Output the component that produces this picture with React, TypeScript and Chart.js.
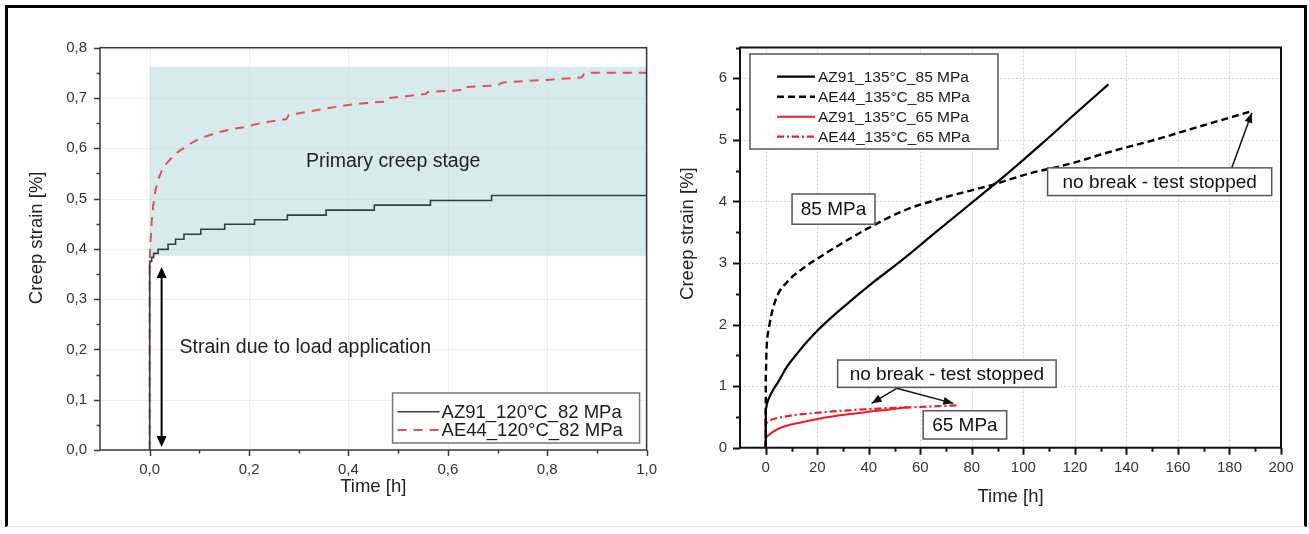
import React, { useEffect, useRef } from 'react';
import { Chart, registerables } from 'chart.js';

Chart.register(...registerables);

const FONT = '"Liberation Sans", Arial, Helvetica, sans-serif';

// ---------------- Left panel: 120°C / 82 MPa, first hour ----------------
const leftNames = ['AZ91_120°C_82 MPa', 'AE44_120°C_82 MPa'];
const leftAZ91Time = [0, 0, 0.004, 0.008, 0.017, 0.037, 0.052, 0.069, 0.103, 0.151, 0.211, 0.277, 0.355, 0.452, 0.565, 0.688, 0.84, 1.0];
const leftAZ91Strain = [0, 0.355, 0.375, 0.383, 0.391, 0.399, 0.409, 0.419, 0.429, 0.439, 0.449, 0.458, 0.467, 0.477, 0.487, 0.496, 0.506, 0.506];
const leftAE44Time = [0, 0, 0.002, 0.004, 0.007, 0.011, 0.017, 0.024, 0.034, 0.045, 0.057, 0.071, 0.085, 0.1, 0.12, 0.139, 0.165, 0.19, 0.215, 0.241, 0.275, 0.28, 0.32, 0.36, 0.4, 0.436, 0.475, 0.48, 0.52, 0.555, 0.56, 0.6, 0.632, 0.636, 0.7, 0.71, 0.8, 0.87, 0.875, 1.0];
const leftAE44Strain = [0, 0.379, 0.42, 0.453, 0.485, 0.514, 0.537, 0.555, 0.57, 0.582, 0.593, 0.602, 0.611, 0.619, 0.626, 0.632, 0.638, 0.642, 0.648, 0.653, 0.658, 0.666, 0.673, 0.68, 0.686, 0.69, 0.693, 0.7, 0.704, 0.708, 0.712, 0.714, 0.716, 0.722, 0.725, 0.731, 0.736, 0.741, 0.75, 0.75];
const leftXMajor = [0, 0.2, 0.4, 0.6, 0.8, 1.0];
const leftXLabels = ['0,0', '0,2', '0,4', '0,6', '0,8', '1,0'];
const leftYMajor = [0, 0.1, 0.2, 0.3, 0.4, 0.5, 0.6, 0.7, 0.8];
const leftYLabels = ['0,0', '0,1', '0,2', '0,3', '0,4', '0,5', '0,6', '0,7', '0,8'];
const leftXTitle = 'Time [h]';
const leftYTitle = 'Creep strain [%]';
const leftShadeX = [0, 1.0];
const leftShadeY = [0.386, 0.762];
const leftNotes = [
  { text: 'Primary creep stage', x: 0.49, y: 0.573, align: 'center' },
  { text: 'Strain due to load application', x: 0.06, y: 0.203, align: 'left' },
];
const leftArrow = { x: 0.024, y1: 0.006, y2: 0.364 };

// ---------------- Right panel: 135°C, 85 / 65 MPa ----------------
const rightNames = ['AZ91_135°C_85 MPa', 'AE44_135°C_85 MPa', 'AZ91_135°C_65 MPa', 'AE44_135°C_65 MPa'];
const rAZ91_85Time = [0, 0, 0.5, 1.5, 3, 5, 8, 12, 16, 20, 30, 40, 53, 66, 80, 94, 107.5, 120, 133];
const rAZ91_85Strain = [0, 0.62, 0.72, 0.83, 0.95, 1.08, 1.3, 1.52, 1.72, 1.9, 2.28, 2.63, 3.05, 3.5, 3.98, 4.46, 4.95, 5.42, 5.9];
const rAE44_85Time = [0, 0, 0.3, 1.3, 4, 9, 15, 20, 30, 40, 53, 69, 88, 102, 118, 134, 151, 167, 189];
const rAE44_85Strain = [0, 1.2, 1.6, 1.96, 2.42, 2.72, 2.93, 3.07, 3.33, 3.57, 3.84, 4.06, 4.27, 4.45, 4.61, 4.81, 5.0, 5.2, 5.47];
const rAZ91_65Time = [0, 0, 1, 4.5, 13.6, 26.4, 39.5, 49.8, 55];
const rAZ91_65Strain = [0, 0.16, 0.2, 0.3, 0.41, 0.51, 0.58, 0.63, 0.66];
const rAE44_65Time = [0, 0, 2, 8, 20.6, 33.4, 46, 59, 75];
const rAE44_65Strain = [0, 0.4, 0.45, 0.51, 0.57, 0.61, 0.64, 0.66, 0.69];
const rightXMajor = [0, 20, 40, 60, 80, 100, 120, 140, 160, 180, 200];
const rightXLabels = ['0', '20', '40', '60', '80', '100', '120', '140', '160', '180', '200'];
const rightYMajor = [0, 1, 2, 3, 4, 5, 6];
const rightYLabels = ['0', '1', '2', '3', '4', '5', '6'];
const rightXTitle = 'Time [h]';
const rightYTitle = 'Creep strain [%]';
const rightBoxes = [
  { text: '85 MPa', x1: 10.2, x2: 42.4, y1: 4.12, y2: 3.63 },
  { text: 'no break - test stopped', x1: 109.4, x2: 196.4, y1: 4.545, y2: 4.095 },
  { text: 'no break - test stopped', x1: 27.9, x2: 112.7, y1: 1.424, y2: 0.98 },
  { text: '65 MPa', x1: 61.1, x2: 93.5, y1: 0.6, y2: 0.141 },
];
const rightArrows = [
  { x1: 180.9, y1: 4.545, x2: 188.7, y2: 5.44 },
  { x1: 50.8, y1: 0.964, x2: 41.1, y2: 0.72 },
  { x1: 50.8, y1: 0.964, x2: 72.8, y2: 0.72 },
];

// ---------------- helpers ----------------
const pts = (xs: number[], ys: number[]) => xs.map((x, i) => ({ x, y: ys[i] }));
const labelFor = (v: number, majors: number[], labels: string[]) => {
  const i = majors.findIndex((m) => Math.abs(m - v) < 1e-6);
  return i >= 0 ? labels[i] : '';
};
const isMajor = (v: number, majors: number[]) => majors.some((m) => Math.abs(m - v) < 1e-6);

function arrowHead(ctx: CanvasRenderingContext2D, x1: number, y1: number, x2: number, y2: number, len: number, half: number) {
  const a = Math.atan2(y2 - y1, x2 - x1);
  const bx = x2 - len * Math.cos(a);
  const by = y2 - len * Math.sin(a);
  ctx.beginPath();
  ctx.moveTo(x2, y2);
  ctx.lineTo(bx + half * Math.sin(a), by - half * Math.cos(a));
  ctx.lineTo(bx - half * Math.sin(a), by + half * Math.cos(a));
  ctx.closePath();
  ctx.fill();
}

function drawTicks(chart: any, xMajor: number[], yMajor: number[], color: string, width: number, majLen: number, minLen: number) {
  const { ctx, chartArea: ca, scales } = chart;
  ctx.save();
  ctx.strokeStyle = color;
  ctx.lineWidth = width;
  const xs = scales.x;
  const ys = scales.y;
  xs.ticks.forEach((t: any) => {
    if (Math.abs(t.value - xs.min) < 1e-9) return;
    const px = Math.round(xs.getPixelForValue(t.value)) + 0.5;
    const L = isMajor(t.value, xMajor) ? majLen : minLen;
    ctx.beginPath();
    ctx.moveTo(px, ca.bottom);
    ctx.lineTo(px, ca.bottom + L);
    ctx.stroke();
  });
  ys.ticks.forEach((t: any) => {
    const py = Math.round(ys.getPixelForValue(t.value)) + 0.5;
    const L = isMajor(t.value, yMajor) ? majLen : minLen;
    ctx.beginPath();
    ctx.moveTo(ca.left, py);
    ctx.lineTo(ca.left - L, py);
    ctx.stroke();
  });
  ctx.restore();
}

function drawGrid(chart: any, xMajor: number[], yMajor: number[], color: string, dash: number[]) {
  const { ctx, chartArea: ca, scales } = chart;
  ctx.save();
  ctx.strokeStyle = color;
  ctx.lineWidth = 1;
  ctx.setLineDash(dash);
  xMajor.forEach((v) => {
    const px = Math.round(scales.x.getPixelForValue(v)) + 0.5;
    ctx.beginPath();
    ctx.moveTo(px, ca.top);
    ctx.lineTo(px, ca.bottom);
    ctx.stroke();
  });
  yMajor.forEach((v) => {
    const py = Math.round(scales.y.getPixelForValue(v)) + 0.5;
    ctx.beginPath();
    ctx.moveTo(ca.left, py);
    ctx.lineTo(ca.right, py);
    ctx.stroke();
  });
  ctx.restore();
}

function drawYTitle(chart: any, text: string, cx: number, dy: number) {
  const { ctx, chartArea: ca } = chart;
  ctx.save();
  ctx.translate(cx, (ca.top + ca.bottom) / 2 + dy);
  ctx.rotate(-Math.PI / 2);
  ctx.font = `18.5px ${FONT}`;
  ctx.fillStyle = '#222';
  ctx.textAlign = 'center';
  ctx.textBaseline = 'middle';
  ctx.fillText(text, 0, 0);
  ctx.restore();
}

function drawLegend(chart: any, box: { x: number; y: number; w: number; h: number }, rows: number[], lineX: number[], textX: number, fontSize: number, borderColor: string) {
  const { ctx } = chart;
  ctx.save();
  ctx.fillStyle = '#fff';
  ctx.fillRect(box.x, box.y, box.w, box.h);
  ctx.strokeStyle = borderColor;
  ctx.lineWidth = 1.5;
  ctx.strokeRect(box.x, box.y, box.w, box.h);
  chart.data.datasets.forEach((ds: any, i: number) => {
    const y = rows[i];
    ctx.save();
    ctx.strokeStyle = ds.borderColor;
    ctx.lineWidth = ds.borderWidth;
    ctx.setLineDash(ds.borderDash || []);
    ctx.beginPath();
    ctx.moveTo(lineX[0], y);
    ctx.lineTo(lineX[1], y);
    ctx.stroke();
    ctx.restore();
    ctx.font = `${fontSize}px ${FONT}`;
    ctx.fillStyle = '#1a1a1a';
    ctx.textAlign = 'left';
    ctx.textBaseline = 'middle';
    ctx.fillText(ds.label, textX, y + 1);
  });
  ctx.restore();
}

const scaleBase = (min: number, max: number, step: number, majors: number[], labels: string[], pad: number) => ({
  type: 'linear' as const,
  min,
  max,
  ticks: {
    stepSize: step,
    autoSkip: false,
    maxRotation: 0,
    padding: pad,
    color: '#333',
    font: { family: FONT, size: 15 },
    callback: (v: any) => labelFor(Number(v), majors, labels),
  },
  grid: { display: false, drawTicks: false },
  border: { display: false },
});

// ---------------- left chart config ----------------
function leftConfig(): any {
  const plugin = {
    id: 'leftDecor',
    beforeDatasetsDraw(chart: any) {
      const { ctx, scales } = chart;
      const x1 = scales.x.getPixelForValue(leftShadeX[0]);
      const x2 = scales.x.getPixelForValue(leftShadeX[1]);
      const y1 = scales.y.getPixelForValue(leftShadeY[1]);
      const y2 = scales.y.getPixelForValue(leftShadeY[0]);
      ctx.save();
      ctx.fillStyle = '#d7ebec';
      ctx.fillRect(x1, y1, x2 - x1, y2 - y1);
      ctx.restore();
      drawGrid(chart, leftXMajor, leftYMajor, 'rgba(200,210,210,0.35)', []);
    },
    afterDatasetsDraw(chart: any) {
      const { ctx, chartArea: ca, scales } = chart;
      const ax = scales.x.getPixelForValue(leftArrow.x);
      const ay1 = scales.y.getPixelForValue(leftArrow.y1);
      const ay2 = scales.y.getPixelForValue(leftArrow.y2);
      ctx.save();
      ctx.strokeStyle = '#000';
      ctx.fillStyle = '#000';
      ctx.lineWidth = 2;
      ctx.beginPath();
      ctx.moveTo(ax, ay1 - 8);
      ctx.lineTo(ax, ay2 + 8);
      ctx.stroke();
      arrowHead(ctx, ax, ay1 - 20, ax, ay1, 11, 5);
      arrowHead(ctx, ax, ay2 + 20, ax, ay2, 11, 5);
      ctx.font = `19.5px ${FONT}`;
      ctx.fillStyle = '#222';
      ctx.textBaseline = 'middle';
      leftNotes.forEach((n) => {
        ctx.textAlign = n.align as CanvasTextAlign;
        ctx.fillText(n.text, scales.x.getPixelForValue(n.x), scales.y.getPixelForValue(n.y));
      });
      ctx.restore();
      ctx.save();
      ctx.strokeStyle = '#3a3a3a';
      ctx.lineWidth = 1.5;
      ctx.strokeRect(ca.left, ca.top, ca.right - ca.left, ca.bottom - ca.top);
      ctx.restore();
      drawTicks(chart, leftXMajor, leftYMajor, '#3a3a3a', 1.5, 6, 3.5);
      drawYTitle(chart, leftYTitle, 37, -11);
      drawLegend(
        chart,
        { x: ca.right - 254, y: ca.bottom - 57, w: 247, h: 50 },
        [ca.bottom - 38.3, ca.bottom - 20],
        [ca.right - 249, ca.right - 207],
        ca.right - 205,
        18.5,
        '#777'
      );
    },
  };
  return {
    type: 'scatter',
    data: {
      datasets: [
        {
          label: leftNames[0],
          data: pts(leftAZ91Time, leftAZ91Strain),
          showLine: true,
          stepped: 'after',
          borderColor: '#35403f',
          borderWidth: 1.6,
          pointRadius: 0,
        },
        {
          label: leftNames[1],
          data: pts(leftAE44Time, leftAE44Strain),
          showLine: true,
          borderColor: '#e5505c',
          borderWidth: 2,
          borderDash: [9, 7],
          pointRadius: 0,
          tension: 0,
        },
      ],
    },
    options: {
      responsive: false,
      animation: false,
      devicePixelRatio: 1,
      layout: { padding: { left: 0, top: 47.7, right: 14, bottom: 0 } },
      plugins: { legend: { display: false }, tooltip: { enabled: false } },
      scales: {
        x: {
          ...scaleBase(-0.1, 1.0, 0.1, leftXMajor, leftXLabels, 11),
          title: { display: true, text: leftXTitle, color: '#222', font: { family: FONT, size: 18.5 }, padding: { top: 0, bottom: 35.5 } },
          afterFit: (s: any) => {
            s.height = 84;
          },
        },
        y: {
          ...scaleBase(0, 0.8, 0.05, leftYMajor, leftYLabels, 13),
          afterFit: (s: any) => {
            s.width = 100;
          },
        },
      },
    },
    plugins: [plugin],
  };
}

// ---------------- right chart config ----------------
function rightConfig(): any {
  const plugin = {
    id: 'rightDecor',
    beforeDatasetsDraw(chart: any) {
      drawGrid(chart, rightXMajor, rightYMajor, '#d6d6d6', [2, 2]);
    },
    afterDatasetsDraw(chart: any) {
      const { ctx, chartArea: ca, scales } = chart;
      const X = (v: number) => scales.x.getPixelForValue(v);
      const Y = (v: number) => scales.y.getPixelForValue(v);
      ctx.save();
      ctx.strokeStyle = '#111';
      ctx.fillStyle = '#111';
      ctx.lineWidth = 1.5;
      rightArrows.forEach((a) => {
        const x1 = X(a.x1), y1 = Y(a.y1), x2 = X(a.x2), y2 = Y(a.y2);
        ctx.beginPath();
        ctx.moveTo(x1, y1);
        ctx.lineTo(x2, y2);
        ctx.stroke();
        arrowHead(ctx, x1, y1, x2, y2, 10, 4);
      });
      rightBoxes.forEach((b) => {
        const x1 = X(b.x1), x2 = X(b.x2), y1 = Y(b.y1), y2 = Y(b.y2);
        ctx.fillStyle = '#fff';
        ctx.fillRect(x1, y1, x2 - x1, y2 - y1);
        ctx.strokeStyle = '#555';
        ctx.lineWidth = 1.5;
        ctx.strokeRect(x1, y1, x2 - x1, y2 - y1);
        ctx.fillStyle = '#111';
        ctx.font = `19px ${FONT}`;
        ctx.textAlign = 'center';
        ctx.textBaseline = 'middle';
        ctx.fillText(b.text, (x1 + x2) / 2, (y1 + y2) / 2 + 1);
      });
      ctx.restore();
      ctx.save();
      ctx.strokeStyle = '#111';
      ctx.lineWidth = 2;
      ctx.strokeRect(ca.left, ca.top, ca.right - ca.left, ca.bottom - ca.top);
      ctx.restore();
      drawTicks(chart, rightXMajor, rightYMajor, '#111', 2, 7, 4);
      drawYTitle(chart, rightYTitle, 28, -14);
      drawLegend(
        chart,
        { x: ca.left + 10, y: ca.top + 6.5, w: 248, h: 95 },
        [ca.top + 29.2, ca.top + 49.2, ca.top + 69.2, ca.top + 89.2],
        [ca.left + 37, ca.left + 75],
        ca.left + 78,
        15.5,
        '#555'
      );
    },
  };
  return {
    type: 'scatter',
    data: {
      datasets: [
        { label: rightNames[0], data: pts(rAZ91_85Time, rAZ91_85Strain), showLine: true, borderColor: '#000', borderWidth: 2.2, pointRadius: 0, cubicInterpolationMode: 'monotone' },
        { label: rightNames[1], data: pts(rAE44_85Time, rAE44_85Strain), showLine: true, borderColor: '#000', borderWidth: 2.4, borderDash: [7, 4], pointRadius: 0, cubicInterpolationMode: 'monotone' },
        { label: rightNames[2], data: pts(rAZ91_65Time, rAZ91_65Strain), showLine: true, borderColor: '#ee1c24', borderWidth: 2, pointRadius: 0, cubicInterpolationMode: 'monotone' },
        { label: rightNames[3], data: pts(rAE44_65Time, rAE44_65Strain), showLine: true, borderColor: '#ee1c24', borderWidth: 2.2, borderDash: [7, 3, 2, 3], pointRadius: 0, cubicInterpolationMode: 'monotone' },
      ],
    },
    options: {
      responsive: false,
      animation: false,
      devicePixelRatio: 1,
      layout: { padding: { left: 0, top: 47.5, right: 28, bottom: 0 } },
      plugins: { legend: { display: false }, tooltip: { enabled: false } },
      scales: {
        x: {
          ...scaleBase(-10, 200, 10, rightXMajor, rightXLabels, 11),
          title: { display: true, text: rightXTitle, color: '#222', font: { family: FONT, size: 18.5 }, padding: { top: 0, bottom: 26 } },
          afterFit: (s: any) => {
            s.height = 86.3;
          },
        },
        y: {
          ...scaleBase(0, 6.5, 0.5, rightYMajor, rightYLabels, 13),
          afterFit: (s: any) => {
            s.width = 80;
          },
        },
      },
    },
    plugins: [plugin],
  };
}

function ChartCanvas({ make, left, width }: { make: () => any; left: number; width: number }) {
  const ref = useRef<HTMLCanvasElement>(null);
  useEffect(() => {
    const chart = new Chart(ref.current as HTMLCanvasElement, make());
    return () => chart.destroy();
  }, []);
  return (
    <canvas
      ref={ref}
      width={width}
      height={534}
      style={{ position: 'absolute', left, top: 0, width, height: 534, display: 'block' }}
    />
  );
}

export default function App() {
  return (
    <div style={{ position: 'absolute', left: 0, top: 0, width: 1309, height: 534, background: '#fff', overflow: 'hidden' }}>
      <div
        style={{
          position: 'absolute',
          left: 5,
          top: 5,
          width: 1302,
          height: 522,
          boxSizing: 'border-box',
          borderLeft: '3px solid #000',
          borderTop: '3px solid #000',
          borderRight: '3px solid #000',
          borderBottom: '1px solid #e6e6e6',
        }}
      />
      <ChartCanvas make={leftConfig} left={0} width={668} />
      <ChartCanvas make={rightConfig} left={660} width={649} />
    </div>
  );
}
